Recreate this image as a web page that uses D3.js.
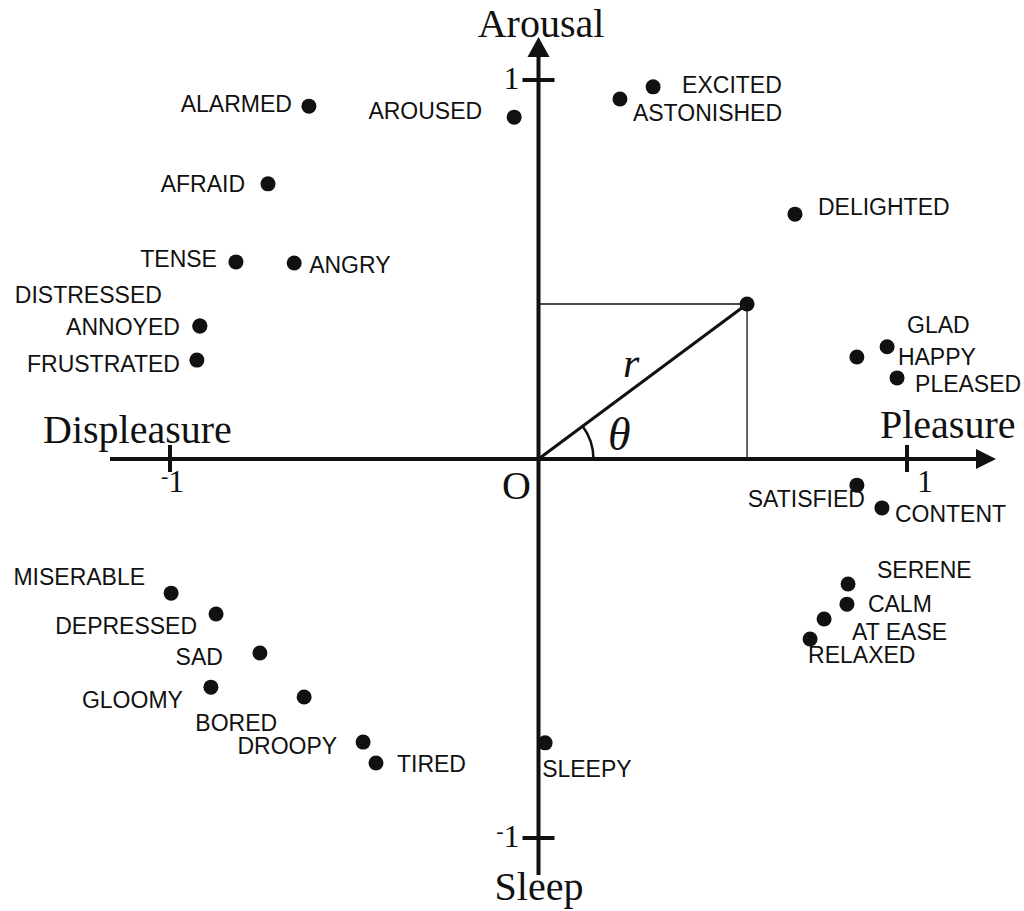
<!DOCTYPE html>
<html>
<head>
<meta charset="utf-8">
<script src="https://cdn.jsdelivr.net/npm/d3@7"></script>
<style>
  body { margin: 0; background: #fff; }
  .lbl { font-family: "Liberation Sans", Arial, sans-serif; font-size: 23px; fill: #111; }
  .serif { font-family: "Liberation Serif", "Times New Roman", serif; fill: #111; }
</style>
</head>
<body>
<script>
// emotion words and their (pleasure, arousal) position
const names = ['ALARMED', 'AROUSED', 'AFRAID', 'TENSE', 'ANGRY', 'DISTRESSED', 'ANNOYED', 'FRUSTRATED',
    'EXCITED', 'ASTONISHED', 'DELIGHTED', 'GLAD', 'HAPPY', 'PLEASED', 'SATISFIED', 'CONTENT',
    'SERENE', 'CALM', 'AT EASE', 'RELAXED', 'SLEEPY', 'TIRED', 'DROOPY', 'BORED',
    'GLOOMY', 'SAD', 'DEPRESSED', 'MISERABLE'];
const pleasure = [-0.623, -0.066, -0.734, -0.821, -0.663, -0.919, -0.919, -0.927,
    0.311, 0.221, 0.696, 0.946, 0.864, 0.973, 0.864, 0.932,
    0.840, 0.837, 0.775, 0.737, 0.018, -0.441, -0.476, -0.636,
    -0.889, -0.756, -0.875, -0.997];
const arousal = [0.931, 0.902, 0.726, 0.520, 0.517, 0.351, 0.351, 0.261,
    0.982, 0.950, 0.646, 0.296, 0.269, 0.214, -0.069, -0.129,
    -0.330, -0.383, -0.422, -0.475, -0.749, -0.802, -0.747, -0.628,
    -0.602, -0.512, -0.409, -0.354];

// example point drawn with r and theta
const examplePoint = [0.566, 0.409];
const tickValues = [-1, 1];
const tickLabels = ['-1', '1'];

// label placement: [anchor, dx, dy] relative to the dot
const labelPos = [
    ['end', -17, 6], ['end', -32, 2], ['end', -23, 8], ['end', -19, 5], ['start', 15, 10],
    ['end', -38, -23], ['end', -20, 9], ['end', -17, 12],
    ['start', 29, 6], ['start', 13, 22], ['start', 23, 1], ['start', 20, -14], ['start', 41, 8],
    ['start', 18, 14], ['end', 8, 22], ['start', 13, 14],
    ['start', 29, -6], ['start', 21, 8], ['start', 28, 21], ['start', -2, 24], ['start', -3, 34],
    ['start', 21, 9], ['end', -26, 12], ['end', -27, 34],
    ['end', -28, 21], ['end', -37, 12], ['end', -19, 20], ['end', -26, -8]
];

const width = 1024,
    height = 911;

const x = d3.scaleLinear().domain([-1, 1]).range([170, 907]);
const y = d3.scaleLinear().domain([-1, 1]).range([838, 80]);

const svg = d3.select('body')
    .append('svg')
    .attr('width', width)
    .attr('height', height);

const x0 = x(0), y0 = y(0);

// thin guide lines to the example point
const px = x(examplePoint[0]), py = y(examplePoint[1]);
svg.append('line')
    .attr('x1', x0).attr('y1', py).attr('x2', px).attr('y2', py)
    .attr('stroke', '#111').attr('stroke-width', 1.3);
svg.append('line')
    .attr('x1', px).attr('y1', py).attr('x2', px).attr('y2', y0)
    .attr('stroke', '#111').attr('stroke-width', 1.3);
svg.append('line')
    .attr('x1', x0).attr('y1', y0).attr('x2', px).attr('y2', py)
    .attr('stroke', '#111').attr('stroke-width', 3);

// theta arc
const theta = Math.atan2(y0 - py, px - x0);
const arcR = 55;
svg.append('path')
    .attr('d', 'M' + (x0 + arcR) + ',' + y0 + ' A' + arcR + ',' + arcR + ' 0 0 0 ' +
        (x0 + arcR * Math.cos(theta)) + ',' + (y0 - arcR * Math.sin(theta)))
    .attr('fill', 'none')
    .attr('stroke', '#111')
    .attr('stroke-width', 2.5);

// axes
svg.append('line')
    .attr('x1', 110).attr('y1', y0).attr('x2', 980).attr('y2', y0)
    .attr('stroke', '#111').attr('stroke-width', 4);
svg.append('path')
    .attr('d', 'M996,' + y0 + ' L976,' + (y0 - 10) + ' L976,' + (y0 + 10) + ' Z')
    .attr('fill', '#111');

svg.append('line')
    .attr('x1', x0).attr('y1', 875).attr('x2', x0).attr('y2', 54)
    .attr('stroke', '#111').attr('stroke-width', 4);
svg.append('path')
    .attr('d', 'M' + x0 + ',37 L' + (x0 - 11) + ',57 L' + (x0 + 11) + ',57 Z')
    .attr('fill', '#111');

// ticks
svg.selectAll('.xtick')
    .data(tickValues)
    .enter()
    .append('line')
    .attr('x1', d => x(d)).attr('x2', d => x(d))
    .attr('y1', y0 - 14).attr('y2', y0 + 13)
    .attr('stroke', '#111').attr('stroke-width', 4);
svg.selectAll('.ytick')
    .data(tickValues)
    .enter()
    .append('line')
    .attr('y1', d => y(d)).attr('y2', d => y(d))
    .attr('x1', x0 - 16).attr('x2', x0 + 16)
    .attr('stroke', '#111').attr('stroke-width', 4);

function tickText(sel, label) {
    if (label.startsWith('-')) {
        sel.append('tspan').attr('font-size', 22).attr('dy', -9).text('-');
        sel.append('tspan').attr('dy', 9).text(label.slice(1));
    } else {
        sel.text(label);
    }
}

tickValues.forEach((v, i) => {
    const tx = svg.append('text')
        .attr('class', 'serif')
        .attr('font-size', 32)
        .attr('x', x(v) + (v < 0 ? -9 : 10))
        .attr('y', y0 + 33);
    tickText(tx, tickLabels[i]);
    const ty = svg.append('text')
        .attr('class', 'serif')
        .attr('font-size', 32)
        .attr('text-anchor', 'end')
        .attr('x', x0 - 19)
        .attr('y', y(v) + 9);
    tickText(ty, tickLabels[i]);
});

// axis titles
const serifText = (t, tx, ty, anchor, style, size) => svg.append('text')
    .attr('class', 'serif')
    .attr('font-size', size || 40)
    .attr('x', tx).attr('y', ty)
    .attr('text-anchor', anchor || 'start')
    .attr('font-style', style || 'normal')
    .text(t);

serifText('Arousal', 541, 37, 'middle');
serifText('Sleep', 539, 900, 'middle');
serifText('Displeasure', 43, 443);
serifText('Pleasure', 880, 438);
serifText('O', 531, 499, 'end');
serifText('θ', 608, 450, 'start', 'italic', 46);
serifText('r', 623, 377, 'start', 'italic', 42);

// emotion dots
const pts = names.map((n, i) => ({ name: n, px: pleasure[i], ar: arousal[i], pos: labelPos[i] }));

svg.selectAll('.dot')
    .data(pts)
    .enter()
    .append('circle')
    .attr('cx', d => x(d.px))
    .attr('cy', d => y(d.ar))
    .attr('r', 7.5)
    .attr('fill', '#111');

svg.append('circle')
    .attr('cx', px).attr('cy', py)
    .attr('r', 7.5)
    .attr('fill', '#111');

svg.selectAll('.lbl')
    .data(pts)
    .enter()
    .append('text')
    .attr('class', 'lbl')
    .attr('x', d => x(d.px) + d.pos[1])
    .attr('y', d => y(d.ar) + d.pos[2])
    .attr('text-anchor', d => d.pos[0])
    .text(d => d.name);
</script>
</body>
</html>
